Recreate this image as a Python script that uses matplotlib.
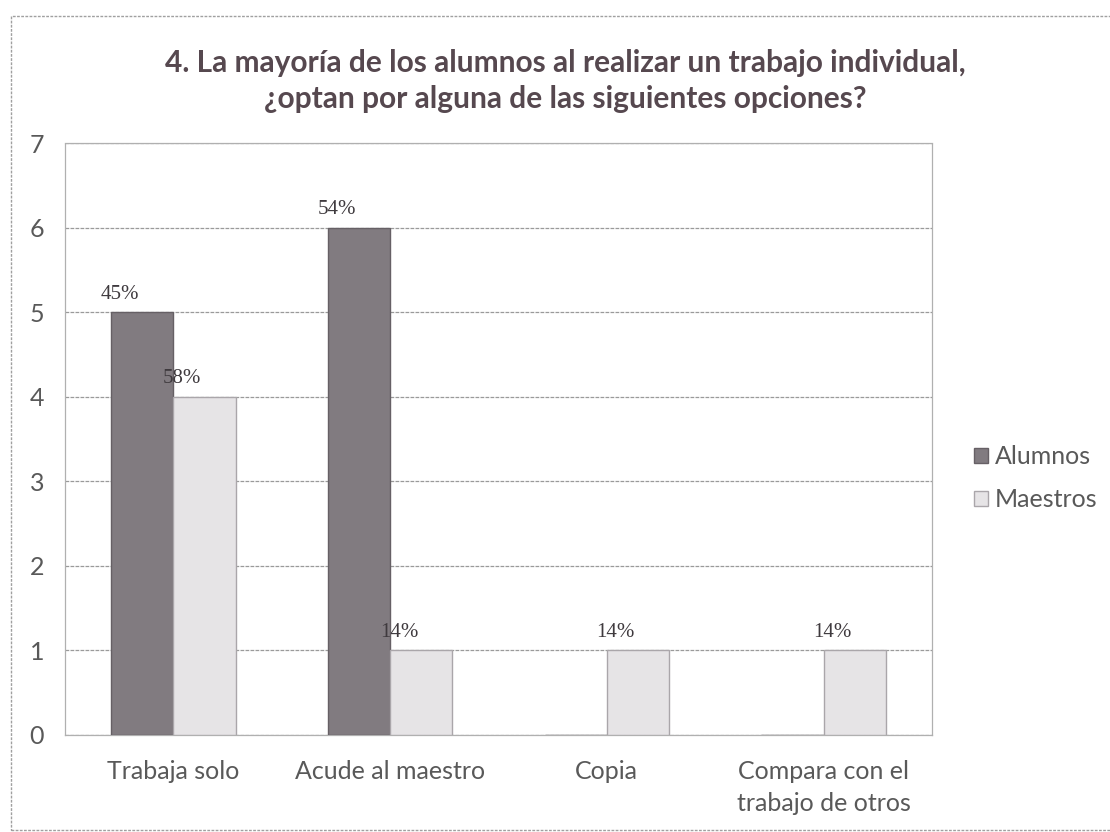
import numpy as np
import matplotlib.pyplot as plt
from matplotlib.patches import Rectangle, Patch

# data
categorias = ['Trabaja solo', 'Acude al maestro', 'Copia', 'Compara con el\ntrabajo de otros']
alumnos = [5, 6, 0, 0]
maestros = [4, 1, 1, 1]
etiq_alumnos = ['45%', '54%', '', '']
etiq_maestros = ['58%', '14%', '14%', '14%']

titulo = '4. La mayoría de los alumnos al realizar un trabajo individual,\n¿optan por alguna de las siguientes opciones?'

fig = plt.figure(figsize=(11.1, 8.32), dpi=100)
ax = fig.add_axes([0.0586, 0.1166, 0.7810, 0.7115])

x = np.arange(len(categorias))
w = 0.287

b1 = ax.bar(x - w / 2, alumnos, w, color='#817b80', edgecolor='#666065', linewidth=1.0, zorder=3, label='Alumnos')
b2 = ax.bar(x + w / 2, maestros, w, color='#e6e4e6', edgecolor='#aaa6aa', linewidth=1.0, zorder=3, label='Maestros')

# data labels sit slightly left of the bar
for xi, v, t in zip(x - w / 2, alumnos, etiq_alumnos):
    if t:
        ax.annotate(t, (xi, v), xytext=(-16, 6), textcoords='offset points', ha='center', va='bottom',
                    fontsize=15, family='Liberation Serif', color='#3f3a3e', zorder=4)
for xi, v, t in zip(x + w / 2, maestros, etiq_maestros):
    ax.annotate(t, (xi, v), xytext=(-16, 6), textcoords='offset points', ha='center', va='bottom',
                fontsize=15, family='Liberation Serif', color='#3f3a3e', zorder=4)

ax.set_xlim(-0.5, 3.5)
ax.set_ylim(0, 7)
ax.set_yticks(range(8))
ax.set_xticks(x)
ax.set_xticklabels(categorias)
ax.tick_params(length=0, labelsize=18, colors='#595959')
ax.tick_params(axis='x', pad=18)
ax.tick_params(axis='y', pad=15)
for lab in ax.get_xticklabels() + ax.get_yticklabels():
    lab.set_family('Lato')
for lab in ax.get_xticklabels():
    lab.set_linespacing(1.45)
ax.yaxis.grid(True, color='#9a9a9a', linestyle=(0, (3, 1)), linewidth=0.9, zorder=0)
ax.set_axisbelow(True)
for s in ax.spines.values():
    s.set_color('#b0b0b0')
    s.set_linestyle((0, (2, 1)))
    s.set_linewidth(0.9)

fig.text(0.509, 0.903, titulo, ha='center', va='center', fontsize=21.5, fontweight='bold',
         family='Lato', color='#56484f', linespacing=1.35)

handles = [Patch(facecolor='#817b80', edgecolor='#666065'), Patch(facecolor='#e6e4e6', edgecolor='#aaa6aa')]
leg = fig.legend(handles, ['Alumnos', 'Maestros'], loc='center left', bbox_to_anchor=(0.866, 0.425),
                 frameon=False, prop={'family': 'Lato', 'size': 18}, labelspacing=0.8, borderpad=0,
                 handlelength=0.55, handleheight=0.55, handletextpad=0.3)
for t in leg.get_texts():
    t.set_color('#595959')

# dotted outer frame of the chart
fig.patches.append(Rectangle((0.0099, 0.0024), 1.1, 0.9784, transform=fig.transFigure, fill=False,
                             edgecolor='#a0a0a0', linestyle=(0, (2, 1)), linewidth=1.0))

fig.savefig('out.png', dpi=100)
